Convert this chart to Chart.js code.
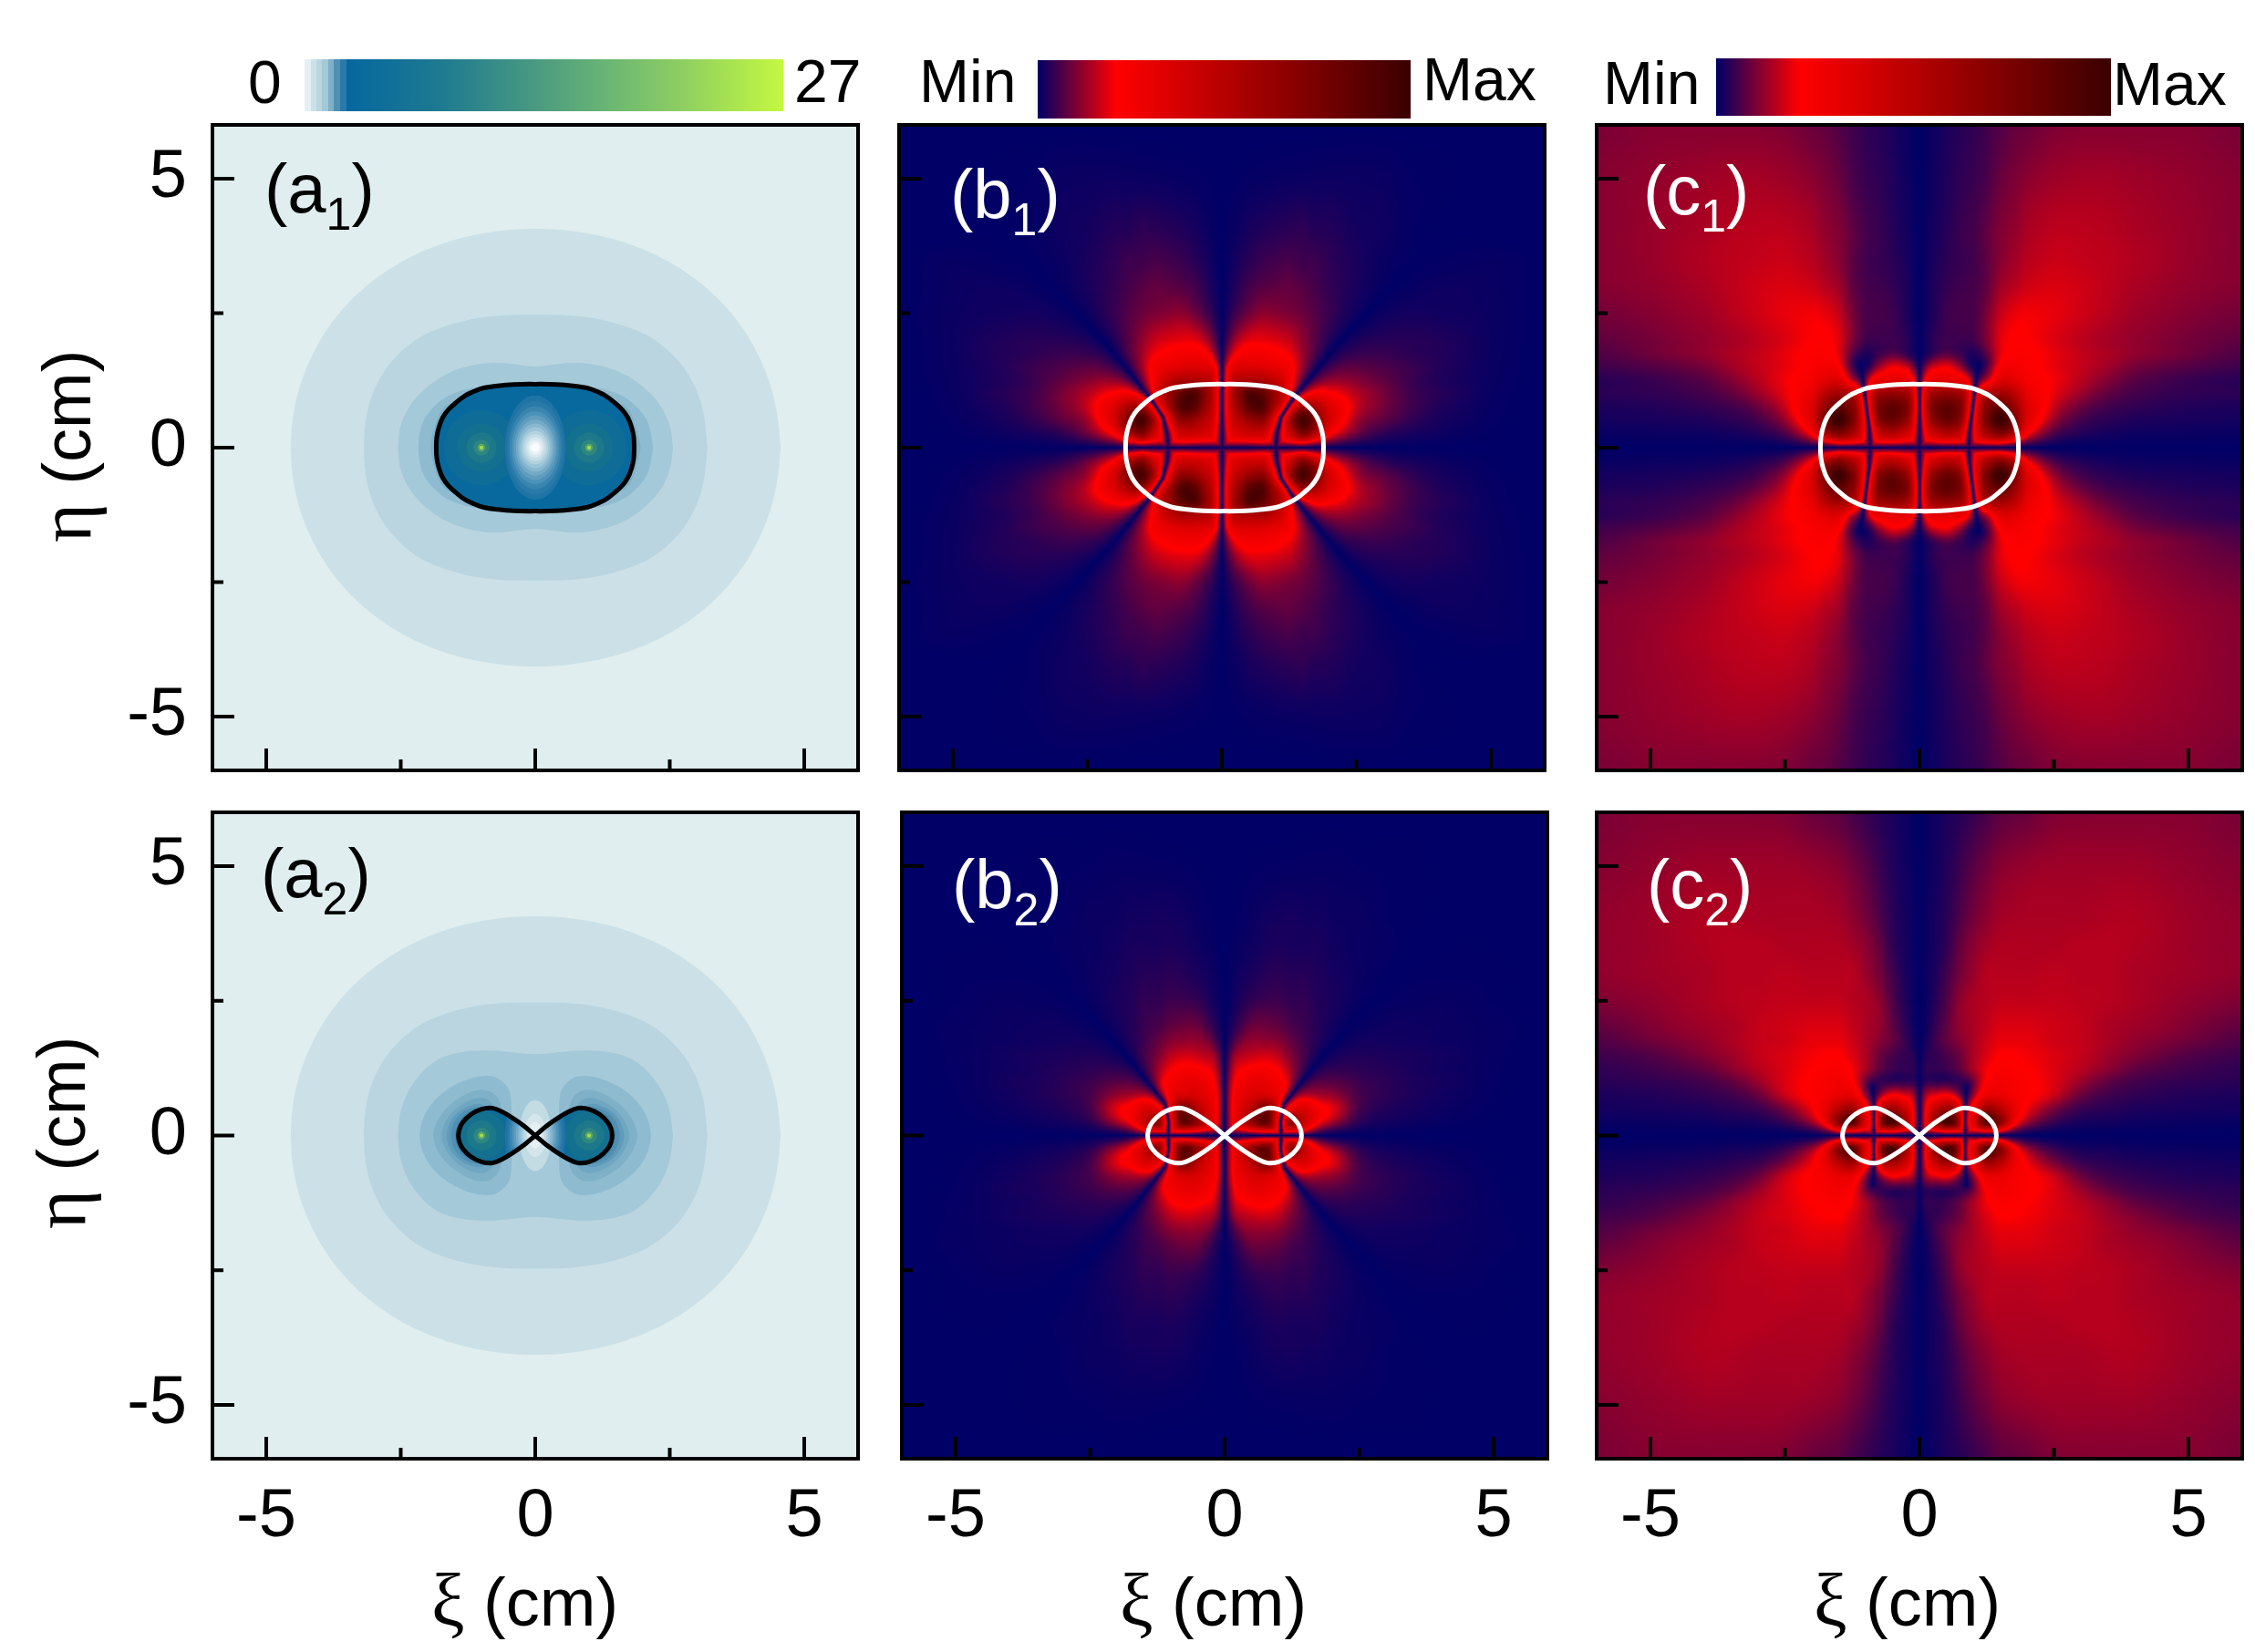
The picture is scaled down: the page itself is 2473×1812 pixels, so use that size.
<!doctype html>
<html lang="en">
<head>
<meta charset="utf-8">
<title>Field maps</title>
<style>
  html, body { margin: 0; padding: 0; background: #fff; }
  #page { position: relative; width: 2473px; height: 1812px; overflow: hidden; }
  canvas { position: absolute; left: 0; top: 0; }
</style>
</head>
<body>
<div id="page"></div>
<script src="https://cdn.jsdelivr.net/npm/chart.js@4"></script>
<script>
// axis ticks
const tickValues = [-5, -2.5, 0, 2.5, 5];
const majorTicks = [-5, 0, 5];

// boundary curves, first quadrant (cm)
const ovalX = [1.84, 1.83, 1.79, 1.72, 1.62, 1.47, 1.30, 1.13, 0.96, 0.70, 0.40, 0];
const ovalY = [0, 0.20, 0.38, 0.56, 0.70, 0.84, 0.97, 1.05, 1.11, 1.15, 1.175, 1.18];
const eightX = [0, 0.20, 0.40, 0.60, 0.80, 1.00, 1.20, 1.35, 1.41, 1.43];
const eightY = [0, 0.17, 0.31, 0.43, 0.51, 0.49, 0.39, 0.24, 0.12, 0];

// filled contour levels of the (a) panels, first quadrant
const outerX = [4.56, 4.50, 4.30, 3.90, 3.30, 2.50, 1.60, 0.70, 0];
const outerY = [0, 0.70, 1.42, 2.20, 2.90, 3.48, 3.86, 4.04, 4.08];
const midX = [3.20, 3.15, 3.00, 2.70, 2.20, 1.60, 0.90, 0];
const midY = [0, 0.60, 1.10, 1.60, 2.05, 2.30, 2.45, 2.48];
const a1WaistX = [2.56, 2.51, 2.26, 1.81, 1.36, 0.79, 0.34, 0];
const a1WaistY = [0, 0.46, 0.91, 1.30, 1.50, 1.60, 1.54, 1.50];
const a1InnerX = [2.19, 2.12, 1.92, 1.64, 1.24, 0.95, 0];
const a1InnerY = [0, 0.46, 0.74, 0.97, 1.11, 1.13, 1.13];
const a1RimX = [1.96, 1.89, 1.75, 1.50, 0];
const a1RimY = [0, 0.34, 0.74, 0.85, 0.85];
const a2WaistX = [2.56, 2.51, 2.32, 1.92, 1.47, 0.90, 0.45, 0];
const a2WaistY = [0, 0.48, 0.93, 1.38, 1.55, 1.59, 1.55, 1.50];
// islands round the focus in a2, from the inner edge over the top to the outer edge
const island1X = [0.44, 0.44, 0.50, 0.70, 0.90, 1.20, 1.60, 2.00, 2.20];
const island1Y = [0, 0.70, 0.90, 1.08, 1.12, 1.07, 0.90, 0.55, 0];
const island2X = [0.60, 0.60, 0.70, 0.96, 1.30, 1.70, 1.96];
const island2Y = [0, 0.45, 0.75, 0.88, 0.78, 0.50, 0];
const island3X = [0.70, 0.70, 0.80, 0.98, 1.30, 1.60, 1.79];
const island3Y = [0, 0.40, 0.62, 0.72, 0.63, 0.40, 0];
const island4X = [0.80, 0.80, 1.00, 1.30, 1.55, 1.68];
const island4Y = [0, 0.40, 0.62, 0.53, 0.35, 0];
const island5X = [0.85, 0.85, 1.00, 1.30, 1.50, 1.59];
const island5Y = [0, 0.40, 0.55, 0.48, 0.30, 0];
const island6X = [0.90, 0.90, 1.00, 1.30, 1.45, 1.51];
const island6Y = [0, 0.40, 0.52, 0.42, 0.22, 0];
// rings inside the curve, at the origin and at the foci
const ringHalfW = [0.565, 0.52, 0.48, 0.44, 0.40, 0.36, 0.32, 0.28, 0.24, 0.20, 0.16, 0.12, 0.08];
const ringHalfH = [0.97, 0.87, 0.77, 0.68, 0.60, 0.52, 0.45, 0.38, 0.31, 0.25, 0.19, 0.13, 0.08];
const holeHalfW = [0.30, 0.20, 0.13];
const holeHalfH = [0.66, 0.40, 0.24];
const fociX = [-1, 1];
const focusRadii = [0.70, 0.45, 0.28, 0.15, 0.07, 0.035];

// nodal lines, first quadrant
const b1NodalX = [1.00, 1.02, 1.10, 1.33, 2.10, 2.80, 4.00, 6.00];
const b1NodalY = [0, 0.25, 0.57, 0.92, 1.87, 2.60, 3.90, 5.80];
const c1NodalX = [0.92, 0.93, 0.98, 1.03, 1.10];
const c1NodalY = [0, 0.30, 0.70, 1.10, 1.55];
const b2NodalX = [1.05, 1.04, 1.08, 1.11, 1.70, 2.40, 4.00, 6.00];
const b2NodalY = [0, 0.25, 0.48, 0.59, 1.33, 2.10, 3.80, 5.80];
const c2NodalX = [0.85, 0.85, 0.86, 0.87];
const c2NodalY = [0, 0.50, 0.75, 0.90];

// field amplitude (percent of Max), read at these positions
const gridXi = [0, 0.25, 0.5, 0.75, 1, 1.25, 1.5, 1.75, 2, 2.5, 3, 3.5, 4, 5, 6];
const gridEta = [0, 0.25, 0.5, 0.75, 1, 1.25, 1.5, 1.75, 2, 2.5, 3, 3.5, 4, 5, 6];
const b1Field = [
  [25, 25, 25, 30, 25, 25, 30, 30, 25, 14, 8, 5, 3, 1, 0],
  [28, 35, 40, 40, 30, 40, 70, 55, 32, 17, 9, 6, 4, 1, 0],
  [35, 45, 60, 65, 40, 60, 95, 70, 38, 16, 11, 7, 4, 1, 0],
  [40, 55, 85, 90, 55, 50, 70, 55, 35, 17, 11, 7, 4, 1, 0],
  [40, 60, 90, 85, 60, 40, 40, 35, 25, 15, 10, 6, 4, 1, 0],
  [35, 50, 55, 55, 45, 30, 25, 22, 18, 12, 8, 5, 3, 1, 0],
  [30, 33, 35, 34, 30, 26, 20, 17, 14, 10, 7, 5, 3, 1, 0],
  [22, 24, 25, 25, 23, 20, 16, 14, 11, 8, 6, 4, 3, 1, 0],
  [16, 18, 19, 19, 18, 16, 13, 11, 9, 7, 5, 4, 3, 1, 0],
  [9, 10, 11, 12, 11, 10, 9, 8, 7, 5, 4, 3, 2, 1, 0],
  [6, 7, 8, 8, 8, 8, 7, 6, 5, 4, 3, 2, 2, 1, 0],
  [4, 5, 5.5, 6, 6, 6, 5, 5, 4, 3, 2, 2, 1, 1, 0],
  [3, 3, 4, 4, 4, 4, 4, 3, 3, 2, 2, 1, 1, 0, 0],
  [1, 1, 1, 1, 1, 1, 1, 1, 1, 1, 1, 0.5, 0.5, 0, 0],
  [0, 0, 0, 0, 0, 0, 0, 0, 0, 0, 0, 0, 0, 0, 0]
];
const c1Field = [
  [22, 24, 28, 28, 26, 30, 32, 32, 22, 9, 5, 4, 4, 4, 4],
  [30, 40, 50, 45, 35, 55, 70, 60, 30, 12, 7, 5, 4, 4, 4],
  [40, 65, 80, 70, 45, 75, 100, 75, 35, 15, 8, 6, 5, 5, 5],
  [50, 75, 85, 75, 50, 70, 85, 65, 35, 17, 10, 7, 6, 5, 5],
  [45, 60, 65, 60, 45, 55, 60, 50, 30, 19, 13, 9, 7, 6, 6],
  [30, 33, 33, 30, 25, 22, 35, 33, 25, 20, 15, 11, 8, 6, 5],
  [12, 17, 20, 13, 5, 12, 26, 26, 23, 19, 16, 13, 10, 8, 7],
  [3, 5, 7, 5, 4, 12, 22, 23, 22, 19, 16, 14, 12, 10, 8],
  [4, 5, 5, 5, 6, 12, 20, 22, 21, 18, 15.5, 13.5, 12, 10, 9],
  [4, 5, 6, 6, 6, 10, 16, 19, 20, 19, 17, 15, 13, 11, 10],
  [5, 6, 6, 6, 6, 8, 13, 15, 17, 18, 17, 15.5, 14, 12, 11],
  [5, 6, 6, 6, 6, 8, 11, 13, 15, 16.5, 16, 15.5, 14.5, 12.5, 11],
  [6, 6, 6, 7, 7, 9, 11, 12, 14, 15.5, 15.5, 15, 14, 12.5, 11],
  [6, 6, 6.5, 7, 7, 8, 10, 11, 12, 13, 13.5, 13.5, 13, 12, 11],
  [6, 6, 6.5, 7, 7, 8, 9, 10, 10, 11, 11, 11, 11, 11, 10]
];
const b2Field = [
  [18, 22, 30, 40, 40, 35, 30, 18, 10, 5, 3, 2, 1, 0.5, 0],
  [20, 35, 65, 85, 55, 70, 42, 25, 19, 7, 4, 3, 2, 0.5, 0],
  [22, 32, 50, 75, 50, 35, 35, 24, 19, 7, 4, 3, 2, 0.5, 0],
  [22, 28, 36, 38, 30, 22, 18, 14, 12, 6, 4, 3, 2, 0.5, 0],
  [18, 24, 30, 30, 25, 17, 13, 10, 8, 5, 3.5, 2.5, 2, 0.5, 0],
  [14, 19, 22, 23, 20, 13, 10, 8, 6, 4, 3, 2, 1.5, 0.5, 0],
  [10, 14, 16, 17, 15, 10, 8, 6, 5, 3.5, 2.5, 2, 1.5, 0.5, 0],
  [7, 10, 12, 12, 11, 8, 6, 5, 4, 3, 2, 1.5, 1, 0.5, 0],
  [5, 7, 9, 9, 8, 6, 5, 4, 3.5, 2.5, 2, 1.5, 1, 0.5, 0],
  [3, 4, 5, 5, 5, 4, 4, 3, 3, 2, 1.5, 1, 1, 0.3, 0],
  [2, 3, 3, 3.5, 3.5, 3, 3, 2.5, 2, 1.5, 1, 1, 0.5, 0.3, 0],
  [1, 2, 2, 2.5, 2.5, 2, 2, 2, 1.5, 1, 1, 0.5, 0.5, 0.2, 0],
  [1, 1, 1.5, 2, 2, 2, 1.5, 1.5, 1, 1, 0.5, 0.5, 0.5, 0.2, 0],
  [0.5, 0.5, 0.5, 0.5, 0.5, 0.5, 0.5, 0.5, 0.5, 0.3, 0.3, 0.3, 0.2, 0, 0],
  [0, 0, 0, 0, 0, 0, 0, 0, 0, 0, 0, 0, 0, 0, 0]
];
const c2Field = [
  [18, 24, 35, 35, 28, 30, 28, 18, 10, 5, 3, 3, 3, 3, 3],
  [22, 55, 95, 75, 40, 90, 70, 32, 18, 9, 5, 5, 4, 4, 4],
  [22, 40, 60, 50, 32, 60, 50, 30, 20, 12, 7, 6, 5, 5, 5],
  [18, 18, 22, 14, 15, 30, 30, 25, 22, 17, 10, 7, 6, 5, 5],
  [6, 4, 4, 5, 10, 22, 26, 24, 22, 18, 13, 9, 7, 6, 6],
  [6, 4, 5, 8, 14, 20, 23, 22, 21, 18, 15, 12, 9, 7, 6],
  [4, 4, 6, 9, 14, 18, 21, 21, 20, 18, 16, 13, 11, 8, 7],
  [3, 5, 8, 11, 14, 17, 19, 19, 19, 17, 16, 14, 12, 10, 8],
  [3, 5, 8, 12, 14, 16, 18, 18, 18, 17, 16, 14, 13, 11, 9],
  [3, 5, 8, 12, 14, 15, 16, 16, 16, 16, 15.5, 15, 14, 12, 11],
  [4, 5, 8, 11, 13, 15, 15, 15, 15, 15.5, 15, 15, 14, 13, 12],
  [4, 5, 7, 11, 13, 14, 14.5, 14.5, 14.5, 14.5, 15, 15, 14.5, 13, 12],
  [5, 6, 7, 10, 12, 13, 14, 14, 14, 14, 14, 14.5, 14.5, 13, 12],
  [6, 6, 7, 9, 11, 12, 13, 13, 13, 13, 13, 13, 13, 12, 11],
  [6, 6, 6.5, 7, 8, 9, 10, 10, 10, 11, 11, 11, 11, 11, 10]
];

// colours
const heatStops = [0, 0.21, 1];
const heatRgb = [[0, 0, 102], [255, 0, 0], [58, 0, 0]];
const levelShades = ['#cbe1e7', '#bad5e0', '#a4c9d9', '#8fbbd0', '#7eb0c8', '#6fa6c1', '#5f9bba', '#4f90b3', '#3f85ac'];
const ringShades = ['#1f74a6', '#2a7aa9', '#3a85b0', '#4c91b8', '#5f9dbf', '#74aac7', '#88b8d0', '#9dc5d8', '#b2d2e0', '#c6dde8', '#d8e8ee', '#e9f2f5', '#fafcfc'];
const holeShades = ['#c3dce3', '#d4e6eb', '#e4f0f2'];
const focusShades = ['#0f6c97', '#14708f', '#1d7889', '#2f8680', '#5aa862', '#a8e048'];

const FIG = '"Liberation Sans", Arial, sans-serif';
const GREEK = '"Liberation Serif", serif';
const LABEL_ROOM = 120;

function quadrantPoints(xs, ys) {
  return xs.map((x, i) => ({x, y: ys[i]}));
}
// closes a first-quadrant curve by mirroring it into the other three
function mirrorLoop(xs, ys, shift = 0) {
  const q = quadrantPoints(xs, ys);
  const pts = [...q];
  q.slice(0, -1).reverse().forEach(p => pts.push({x: -p.x, y: p.y}));
  q.slice(1).forEach(p => pts.push({x: -p.x, y: -p.y}));
  q.slice(0, -1).reverse().forEach(p => pts.push({x: p.x, y: -p.y}));
  return pts.map(p => ({x: p.x + shift, y: p.y}));
}
function islandLoop(xs, ys, side) {
  const q = quadrantPoints(xs, ys);
  const pts = [...q];
  q.slice(1, -1).reverse().forEach(p => pts.push({x: p.x, y: -p.y}));
  return pts.map(p => ({x: side * p.x, y: p.y}));
}
function figureEight(xs, ys) {
  const q = quadrantPoints(xs, ys);
  const pts = [...q];
  q.slice(0, -1).reverse().forEach(p => pts.push({x: p.x, y: -p.y}));
  q.slice(1).forEach(p => pts.push({x: -p.x, y: p.y}));
  q.slice(0, -1).reverse().forEach(p => pts.push({x: -p.x, y: -p.y}));
  return pts;
}

function heatColor(v) {
  const i = v < heatStops[1] ? 0 : 1;
  const t = Math.min(1, Math.max(0, (v - heatStops[i]) / (heatStops[i + 1] - heatStops[i])));
  return heatRgb[i].map((c, k) => c + (heatRgb[i + 1][k] - c) * t);
}
function gridIndex(nodes, value) {
  let i = 0;
  while (i < nodes.length - 2 && value > nodes[i + 1]) i++;
  return i + (value - nodes[i]) / (nodes[i + 1] - nodes[i]);
}
function spline(p0, p1, p2, p3, t) {
  return p1 + 0.5 * t * (p2 - p0 + t * (2 * p0 - 5 * p1 + 4 * p2 - p3 + t * (3 * (p1 - p2) + p3 - p0)));
}
function fieldAt(field, ix, iy) {
  const cx = Math.floor(ix), cy = Math.floor(iy);
  const n = gridXi.length - 1, rows = [];
  for (let j = -1; j <= 2; j++) {
    const r = field[Math.min(gridEta.length - 1, Math.abs(cy + j))];
    rows.push(spline(r[Math.abs(cx - 1)], r[Math.min(n, cx)], r[Math.min(n, cx + 1)], r[Math.min(n, cx + 2)], ix - cx));
  }
  return Math.max(0, spline(rows[0], rows[1], rows[2], rows[3], iy - cy));
}
function nodalFactor(x, y, nx, ny) {
  let d = Math.min(x, y);
  for (let i = 0; i < nx.length - 1; i++) {
    const ax = nx[i], ay = ny[i], ex = nx[i + 1] - ax, ey = ny[i + 1] - ay;
    const t = Math.max(0, Math.min(1, ((x - ax) * ex + (y - ay) * ey) / (ex * ex + ey * ey)));
    d = Math.min(d, Math.hypot(x - ax - t * ex, y - ay - t * ey));
  }
  const w = 0.25 + 0.6 * Math.max(0, Math.hypot(x, y) - 1.5);
  const s = Math.min(1, d / w);
  return s * (2 - s);
}

// paints the measured field on the chart area through the axes
function drawHeat(chart, p) {
  const a = chart.chartArea;
  const w = Math.ceil(a.right - a.left), h = Math.ceil(a.bottom - a.top);
  if (!p.image) {
    const off = document.createElement('canvas');
    off.width = w; off.height = h;
    const octx = off.getContext('2d');
    const img = octx.createImageData(w, h);
    const ix = [], iy = [], vx = [], vy = [];
    for (let i = 0; i < w; i++) { vx[i] = Math.abs(chart.scales.x.getValueForPixel(a.left + i + 0.5)); ix[i] = gridIndex(gridXi, vx[i]); }
    for (let j = 0; j < h; j++) { vy[j] = Math.abs(chart.scales.y.getValueForPixel(a.top + j + 0.5)); iy[j] = gridIndex(gridEta, vy[j]); }
    for (let j = 0; j < h; j++) {
      for (let i = 0; i < w; i++) {
        const v = fieldAt(p.field, ix[i], iy[j]) / 100 * nodalFactor(vx[i], vy[j], p.nodalX, p.nodalY);
        const c = heatColor(v), o = (j * w + i) * 4;
        img.data[o] = c[0]; img.data[o + 1] = c[1]; img.data[o + 2] = c[2]; img.data[o + 3] = 255;
      }
    }
    octx.putImageData(img, 0, 0);
    p.image = off;
  }
  chart.ctx.drawImage(p.image, a.left, a.top);
}

function tracePoints(ctx, pts) {
  // smooth closed path through the midpoints of the parsed points
  const n = pts.length;
  ctx.moveTo((pts[n - 1].x + pts[0].x) / 2, (pts[n - 1].y + pts[0].y) / 2);
  for (let i = 0; i < n; i++) {
    const q = pts[(i + 1) % n];
    ctx.quadraticCurveTo(pts[i].x, pts[i].y, (pts[i].x + q.x) / 2, (pts[i].y + q.y) / 2);
  }
}
function drawRings(chart, x0, halfW, halfH, shades) {
  const {ctx, scales: {x, y}} = chart;
  halfW.forEach((hw, i) => {
    ctx.fillStyle = shades[i];
    ctx.beginPath();
    ctx.ellipse(x.getPixelForValue(x0), y.getPixelForValue(0),
      Math.abs(x.getPixelForValue(hw) - x.getPixelForValue(0)),
      Math.abs(y.getPixelForValue(halfH[i]) - y.getPixelForValue(0)), 0, 0, 7);
    ctx.fill();
  });
}
// filled contours, then the inside of the boundary curve
function drawLevels(chart, p) {
  const ctx = chart.ctx, a = chart.chartArea;
  ctx.save();
  ctx.fillStyle = '#e0eeef';
  ctx.fillRect(a.left, a.top, a.right - a.left, a.bottom - a.top);
  chart.data.datasets.forEach((ds, i) => {
    if (ds.shade === undefined) return;
    ctx.fillStyle = ds.shade;
    ctx.beginPath();
    tracePoints(ctx, chart.getDatasetMeta(i).data);
    ctx.closePath();
    ctx.fill();
  });
  if (p.holes) drawRings(chart, 0, holeHalfW, holeHalfH, holeShades);
  const curve = chart.getDatasetMeta(chart.data.datasets.length - 1).data;
  ctx.beginPath();
  curve.forEach((e, k) => k ? ctx.lineTo(e.x, e.y) : ctx.moveTo(e.x, e.y));
  ctx.closePath();
  ctx.fillStyle = '#08699e';
  ctx.fill();
  ctx.clip();
  fociX.forEach(fx => drawRings(chart, fx, focusRadii, focusRadii, focusShades));
  drawRings(chart, 0, ringHalfW, ringHalfH, ringShades);
  ctx.restore();
}
function drawFrame(chart) {
  const {ctx, chartArea: a, scales: {x, y}} = chart;
  ctx.save();
  ctx.strokeStyle = '#000';
  ctx.lineWidth = 4;
  tickValues.forEach(v => {
    const len = majorTicks.includes(v) ? 24 : 12;
    ctx.beginPath();
    ctx.moveTo(x.getPixelForValue(v), a.bottom);
    ctx.lineTo(x.getPixelForValue(v), a.bottom - len);
    ctx.moveTo(a.left, y.getPixelForValue(v));
    ctx.lineTo(a.left + len, y.getPixelForValue(v));
    ctx.stroke();
  });
  ctx.strokeRect(a.left, a.top, a.right - a.left, a.bottom - a.top);
  ctx.restore();
}
function drawRuns(ctx, x, y, runs, color) {
  ctx.fillStyle = color;
  ctx.textAlign = 'left';
  ctx.textBaseline = 'alphabetic';
  runs.forEach(r => {
    ctx.font = r.font;
    ctx.fillText(r.text, x, y + (r.dy || 0));
    x += ctx.measureText(r.text).width;
  });
}
function drawTexts(chart, p) {
  const ctx = chart.ctx;
  ctx.save();
  const big = `74px ${FIG}`, sub = `50px ${FIG}`;
  drawRuns(ctx, p.tag.x, p.tag.y, [
    {text: '(' + p.tag.letter, font: `76px ${FIG}`},
    {text: p.tag.index, font: sub, dy: 19},
    {text: ')', font: `76px ${FIG}`}
  ], p.tag.color);
  if (p.xTitle) drawRuns(ctx, p.xTitle, 1783, [{text: 'ξ', font: `82px ${GREEK}`}, {text: ' (cm)', font: big}], '#000');
  if (p.yTitle) {
    ctx.save();
    ctx.translate(p.yTitle.x, p.yTitle.y);
    ctx.rotate(-Math.PI / 2);
    drawRuns(ctx, 0, 0, [{text: 'η', font: `82px ${GREEK}`}, {text: ' (cm)', font: big}], '#000');
    ctx.restore();
  }
  if (p.bar) {
    const b = p.bar;
    const g = ctx.createLinearGradient(b.x0, 0, b.x1, 0);
    b.stops.forEach(s => g.addColorStop(s[0], s[1]));
    ctx.fillStyle = g;
    ctx.fillRect(b.x0, b.y0, b.x1 - b.x0, b.y1 - b.y0);
    b.labels.forEach(l => drawRuns(ctx, l.x, l.y, [{text: l.text, font: `66px ${FIG}`}], '#000'));
  }
  ctx.restore();
}

const panelPlugin = {
  id: 'panel',
  beforeDatasetsDraw(chart, args, opts) {
    const p = opts.panel;
    p.field ? drawHeat(chart, p) : drawLevels(chart, p);
  },
  afterDatasetsDraw(chart) { drawFrame(chart); },
  afterDraw(chart, args, opts) { drawTexts(chart, opts.panel); }
};

const tealBar = [[0, '#ffffff'], [0.012, '#ffffff'], [0.012, '#e4f0f2'], [0.024, '#e4f0f2'], [0.024, '#cbe1e7'], [0.036, '#cbe1e7'], [0.036, '#bad5e0'], [0.048, '#bad5e0'], [0.048, '#a4c9d9'], [0.06, '#a4c9d9'], [0.06, '#7eb0c8'], [0.072, '#7eb0c8'], [0.072, '#4f90b3'], [0.084, '#4f90b3'], [0.084, '#2a7aa9'], [0.098, '#2a7aa9'], [0.098, '#05679f'], [0.3, '#1f7b90'], [0.5, '#4c9c80'], [0.65, '#6db873'], [0.8, '#90d060'], [1, '#c4f840']];
const redBar = [[0, '#000066'], [0.21, '#ff0000'], [1, '#3a0000']];

const loops = {
  a1: [[outerX, outerY], [midX, midY], [a1WaistX, a1WaistY], [a1InnerX, a1InnerY], [a1RimX, a1RimY]],
  a2: [[outerX, outerY], [midX, midY], [a2WaistX, a2WaistY]]
};
const a2Islands = [[island1X, island1Y], [island2X, island2Y], [island3X, island3Y], [island4X, island4Y], [island5X, island5Y], [island6X, island6Y]];

function levelDatasets(name) {
  const sets = loops[name].map((q, i) => ({data: mirrorLoop(q[0], q[1]), shade: levelShades[i]}));
  if (name === 'a2') {
    a2Islands.forEach((q, i) => {
      [1, -1].forEach(side => sets.push({data: islandLoop(q[0], q[1], side), shade: levelShades[i + 3]}));
    });
  }
  return sets;
}

const panels = [
  {name: 'a1', box: [233, 137, 941, 845], curve: mirrorLoop(ovalX, ovalY), line: '#000',
    tag: {x: 290, y: 233, letter: 'a', index: '1', color: '#000'}, yTitle: {x: 99, y: 595}, yLabels: true,
    bar: {x0: 328, x1: 859, y0: 65, y1: 122, stops: tealBar, labels: [{text: '0', x: 272, y: 113}, {text: '27', x: 871, y: 112}]}},
  {name: 'b1', box: [986, 137, 1694, 845], curve: mirrorLoop(ovalX, ovalY, 0.05), line: '#fff',
    field: b1Field, nodalX: b1NodalX, nodalY: b1NodalY,
    tag: {x: 1042, y: 239, letter: 'b', index: '1', color: '#fff'},
    bar: {x0: 1138, x1: 1547, y0: 66, y1: 130, stops: redBar, labels: [{text: 'Min', x: 1008, y: 112}, {text: 'Max', x: 1560, y: 110}]}},
  {name: 'c1', box: [1751, 137, 2459, 845], curve: mirrorLoop(ovalX, ovalY), line: '#fff',
    field: c1Field, nodalX: c1NodalX, nodalY: c1NodalY,
    tag: {x: 1802, y: 235, letter: 'c', index: '1', color: '#fff'},
    bar: {x0: 1882, x1: 2315, y0: 64, y1: 127, stops: redBar, labels: [{text: 'Min', x: 1758, y: 114}, {text: 'Max', x: 2317, y: 115}]}},
  {name: 'a2', box: [233, 891, 941, 1600], curve: figureEight(eightX, eightY), line: '#000', holes: true,
    tag: {x: 286, y: 984, letter: 'a', index: '2', color: '#000'}, yTitle: {x: 93, y: 1348}, yLabels: true, xLabels: true, xTitle: 473},
  {name: 'b2', box: [989, 891, 1697, 1600], curve: figureEight(eightX, eightY), line: '#fff',
    field: b2Field, nodalX: b2NodalX, nodalY: b2NodalY,
    tag: {x: 1044, y: 996, letter: 'b', index: '2', color: '#fff'}, xLabels: true, xTitle: 1228},
  {name: 'c2', box: [1751, 891, 2459, 1600], curve: figureEight(eightX, eightY), line: '#fff',
    field: c2Field, nodalX: c2NodalX, nodalY: c2NodalY,
    tag: {x: 1806, y: 996, letter: 'c', index: '2', color: '#fff'}, xLabels: true, xTitle: 1989}
];

function axis(showLabels, padding, fit) {
  return {
    type: 'linear', min: -6, max: 6,
    afterBuildTicks(s) { s.ticks = tickValues.map(value => ({value})); },
    afterFit: fit,
    grid: {display: false},
    border: {display: false},
    ticks: {
      display: showLabels, autoSkip: false, maxRotation: 0, minRotation: 0, padding,
      color: '#000', font: {family: FIG, size: 74},
      callback: v => majorTicks.includes(v) ? String(v) : ''
    }
  };
}

panels.forEach(p => {
  const canvas = document.createElement('canvas');
  canvas.width = 2473; canvas.height = 1812;
  document.getElementById('page').appendChild(canvas);
  const datasets = p.field ? [] : levelDatasets(p.name);
  datasets.forEach(d => { d.pointRadius = 0; d.showLine = false; });
  datasets.push({data: p.curve, showLine: true, pointRadius: 0, borderColor: p.line, borderWidth: 5, tension: 0.4, fill: false});
  new Chart(canvas, {
    type: 'scatter',
    data: {datasets},
    plugins: [panelPlugin],
    options: {
      responsive: false, animation: false, devicePixelRatio: 1,
      layout: {autoPadding: false, padding: {left: p.box[0] - LABEL_ROOM, top: p.box[1], right: 2473 - p.box[2], bottom: 1812 - p.box[3] - LABEL_ROOM}},
      events: [],
      plugins: {legend: {display: false}, tooltip: {enabled: false}, panel: {panel: p}},
      scales: {
        x: axis(!!p.xLabels, 12, s => { s.height = LABEL_ROOM; }),
        y: axis(!!p.yLabels, 20, s => { s.width = LABEL_ROOM; })
      }
    }
  });
});
</script>
</body>
</html>
